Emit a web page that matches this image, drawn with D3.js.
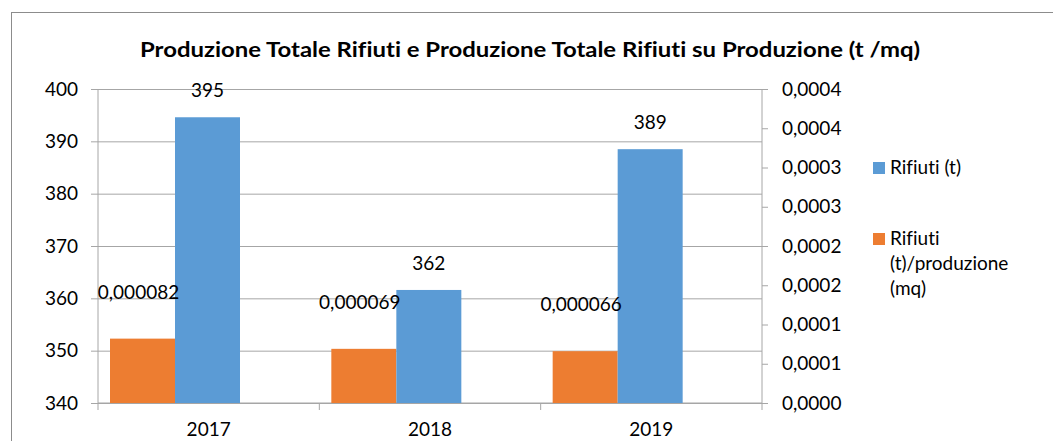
<!DOCTYPE html>
<html>
<head>
<meta charset="utf-8">
<script src="https://cdn.jsdelivr.net/npm/d3@7"></script>
<style>
  body { margin: 0; background: #fff; }
  text { font-family: Lato, "Liberation Sans", Arial, sans-serif; fill: #000; font-variant-ligatures: none; }
</style>
</head>
<body>
<svg id="chart" width="1053" height="441"></svg>
<script>
const years = ['2017', '2018', '2019']
const rifiuti = [394.6, 361.6, 388.5]
const rifiutiProd = [0.000082, 0.000069, 0.000066]
const leftTicks = [340, 350, 360, 370, 380, 390, 400]
const rightTicks = [0, 0.00005, 0.0001, 0.00015, 0.0002, 0.00025, 0.0003, 0.00035, 0.0004]
const rightTickLabels = ['0,0000', '0,0001', '0,0001', '0,0002', '0,0002', '0,0003', '0,0003', '0,0004', '0,0004']
const seriesNames = ['Rifiuti (t)', 'Rifiuti (t)/produzione (mq)']

const blue = '#5B9BD5'
const orange = '#ED7D31'
const gridColor = '#A6A6A6'
const axisColor = '#A6A6A6'
const fontSize = 19

const plotLeft = 98, plotRight = 762, plotTop = 89, plotBottom = 403

const it = d3.formatLocale({ decimal: ',', thousands: '.', grouping: [3], currency: ['€', ''] })
const fmtBlue = it.format('.0f')
const fmtOrange = it.format('.6f')

const svg = d3.select('#chart')

// cornice del grafico
svg.append('rect')
  .attr('x', 11.5).attr('y', 12.5)
  .attr('width', 1100).attr('height', 500)
  .attr('fill', 'none')
  .attr('stroke', '#8C8C8C')

svg.append('text')
  .attr('x', 530).attr('y', 57)
  .attr('text-anchor', 'middle')
  .attr('font-size', 21)
  .attr('font-weight', 'bold')
  .attr('textLength', 780)
  .attr('lengthAdjust', 'spacingAndGlyphs')
  .text('Produzione Totale Rifiuti e Produzione Totale Rifiuti su Produzione (t /mq)')

const x = d3.scaleBand().domain(years).range([plotLeft, plotRight])
const xSub = d3.scaleBand().domain(['prod', 'rif']).range([12, 142])

const yL = d3.scaleLinear().domain([340, 400]).range([plotBottom, plotTop])
const yR = d3.scaleLinear().domain([0, 0.0004]).range([plotBottom, plotTop])

// griglia + asse sinistro
const axL = svg.append('g')
  .attr('transform', `translate(${plotLeft},0)`)
  .call(d3.axisLeft(yL).tickValues(leftTicks).tickSize(7).tickPadding(13))
axL.selectAll('.tick line').attr('stroke', gridColor)
axL.selectAll('.tick').append('line')
  .attr('x2', plotRight - plotLeft).attr('stroke', gridColor)
axL.selectAll('.tick text').attr('font-size', fontSize)
axL.select('.domain').attr('stroke', axisColor).attr('d', `M0,${plotTop}V${plotBottom}`)

// asse destro
const axR = svg.append('g')
  .attr('transform', `translate(${plotRight},0)`)
  .call(d3.axisRight(yR).tickValues(rightTicks).tickFormat((d, i) => rightTickLabels[i]).tickSize(6).tickPadding(14))
axR.selectAll('.tick line').attr('stroke', axisColor)
axR.selectAll('.tick text').attr('font-size', fontSize)
axR.select('.domain').attr('stroke', axisColor).attr('d', `M0,${plotTop}V${plotBottom}`)

// asse categorie
const axX = svg.append('g')
  .attr('transform', `translate(0,${plotBottom})`)
  .call(d3.axisBottom(x).tickSize(0).tickPadding(20))
axX.select('.domain').attr('stroke', axisColor).attr('d', `M${plotLeft},0H${plotRight}`)
axX.selectAll('.tick text').attr('font-size', fontSize)
const bounds = [plotLeft].concat(years.map(y => x(y) + x.bandwidth()))
axX.selectAll('line.sep').data(bounds).enter().append('line')
  .attr('class', 'sep')
  .attr('x1', d => d).attr('x2', d => d)
  .attr('y1', 0).attr('y2', 7)
  .attr('stroke', axisColor)

// barre
const groups = svg.selectAll('g.anno')
  .data(years)
  .enter()
  .append('g')
  .attr('class', 'anno')
  .attr('transform', d => `translate(${x(d)},0)`)

groups.append('rect')
  .attr('x', xSub('prod'))
  .attr('width', xSub.bandwidth())
  .attr('y', (d, i) => yR(rifiutiProd[i]))
  .attr('height', (d, i) => plotBottom - yR(rifiutiProd[i]))
  .attr('fill', orange)

groups.append('rect')
  .attr('x', xSub('rif'))
  .attr('width', xSub.bandwidth())
  .attr('y', (d, i) => yL(rifiuti[i]))
  .attr('height', (d, i) => plotBottom - yL(rifiuti[i]))
  .attr('fill', blue)

groups.append('text')
  .attr('x', xSub('rif') + xSub.bandwidth() / 2)
  .attr('y', (d, i) => yL(rifiuti[i]) - 20)
  .attr('text-anchor', 'middle')
  .attr('font-size', fontSize)
  .text((d, i) => fmtBlue(rifiuti[i]))

groups.append('text')
  .attr('x', xSub('prod') + xSub.bandwidth() / 2 - 4)
  .attr('y', (d, i) => yR(rifiutiProd[i]) - 40)
  .attr('text-anchor', 'middle')
  .attr('font-size', fontSize)
  .text((d, i) => fmtOrange(rifiutiProd[i]))

// legenda
const legend = svg.append('g').attr('transform', 'translate(873,0)')
legend.append('rect').attr('x', 0).attr('y', 162).attr('width', 12).attr('height', 12).attr('fill', blue)
legend.append('text').attr('x', 17).attr('y', 174).attr('font-size', fontSize).text(seriesNames[0])
legend.append('rect').attr('x', 0).attr('y', 233).attr('width', 12).attr('height', 12).attr('fill', orange)
const lt = legend.append('text').attr('x', 17).attr('y', 245).attr('font-size', fontSize)
;['Rifiuti', '(t)/produzione', '(mq)'].forEach((s, i) => {
  lt.append('tspan').attr('x', 17).attr('dy', i === 0 ? 0 : 25).text(s)
})
</script>
</body>
</html>
